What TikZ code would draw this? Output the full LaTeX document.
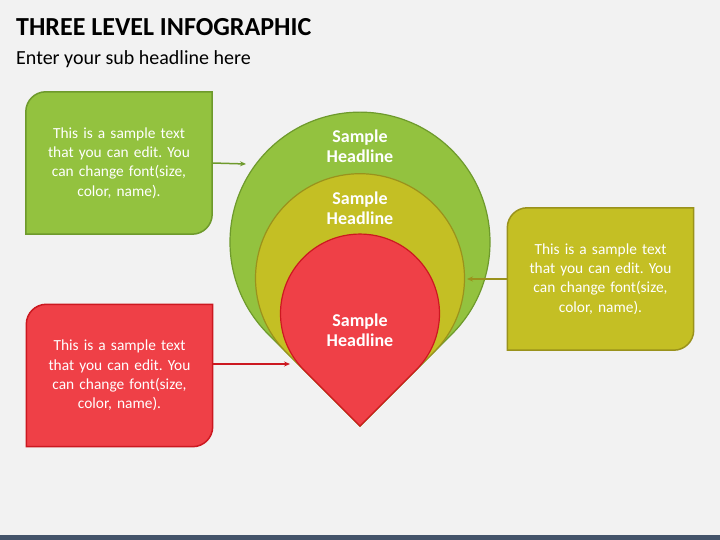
\documentclass[tikz,border=0pt]{standalone}
\usepackage{fontspec}
\setmainfont{Carlito}
\usetikzlibrary{calc,backgrounds,arrows.meta}
\frenchspacing
\definecolor{bgc}{HTML}{F2F2F2}
\definecolor{barc}{HTML}{44546A}
\definecolor{gfill}{HTML}{93C23F}
\definecolor{gline}{HTML}{6E9A2C}
\definecolor{yfill}{HTML}{C4BF24}
\definecolor{yline}{HTML}{9A921C}
\definecolor{rfill}{HTML}{EF4047}
\definecolor{rline}{HTML}{CC1820}
\tikzset{
  boxtext/.style={inner sep=0pt, minimum width=186pt, minimum height=142pt,
    text width=180pt, align=center, text=white,
    font=\fontsize{15.4}{19.3}\selectfont},
  headtext/.style={inner sep=0pt, align=center, text=white,
    font=\fontsize{18}{20}\selectfont\bfseries},
  dropline/.style={line width=1.2pt},
  boxline/.style={line width=1.5pt},
  conn/.style={line width=1.5pt, -{Stealth[length=6pt,width=5pt]}},
}
\begin{document}
\begin{tikzpicture}[x=1pt,y=1pt]
\useasboundingbox (0,0) rectangle (720,540);
% title texts
\node[anchor=base west, inner sep=0pt, font=\fontsize{26}{28}\selectfont\bfseries] (title) at (16,504) {THREE LEVEL INFOGRAPHIC};
\node[anchor=base west, inner sep=0pt, font=\fontsize{20}{22}\selectfont] (sub) at (16,475) {Enter your sub headline here};
% teardrops
\coordinate (tip) at (360,114);
\draw[dropline, draw=gline, fill=gfill] (tip) -- ++(45:130pt) arc[start angle=-45,end angle=225,radius=130pt] -- cycle;
\draw[dropline, draw=yline, fill=yfill] (tip) -- ++(45:104.5pt) arc[start angle=-45,end angle=225,radius=104.5pt] -- cycle;
\draw[dropline, draw=rline, fill=rfill] (tip) -- ++(45:79.5pt) arc[start angle=-45,end angle=225,radius=79.5pt] -- cycle;
\node[headtext] (ghead) at (360,394) {Sample\\Headline};
\node[headtext] (yhead) at (360,332) {Sample\\Headline};
\node[headtext] (rhead) at (360,210) {Sample\\Headline};
% arrow targets
\coordinate (gtip) at (246,376);
\coordinate (ytip) at (467,261);
\coordinate (rtip) at (290,176);
% boxes
\node[boxtext] (gbox) at (119,377) {This is a sample text\\that you can edit. You\\can change font(size,\\color, name).};
\node[boxtext] (ybox) at (600.5,261) {This is a sample text\\that you can edit. You\\can change font(size,\\color, name).};
\node[boxtext] (rbox) at (119.5,164.5) {This is a sample text\\that you can edit. You\\can change font(size,\\color, name).};
\begin{scope}[on background layer]
\fill[bgc] (0,0) rectangle (720,540);
\fill[barc] (0,0) rectangle (720,5);
\foreach \b/\f/\l in {gbox/gfill/gline, ybox/yfill/yline, rbox/rfill/rline}{
  \draw[boxline, draw=\l, fill=\f] (\b.south west) -- ($(\b.north west)+(0,-20pt)$)
    arc[start angle=180,end angle=90,radius=20pt] -- (\b.north east)
    -- ($(\b.south east)+(0,20pt)$) arc[start angle=0,end angle=-90,radius=20pt] -- cycle;
}
\end{scope}
% connectors
\draw[conn, draw=gline] (gbox.east) -- (gtip);
\draw[conn, draw=yline] (ybox.west) -- (ytip);
\draw[conn, draw=rline] (rbox.east |- rtip) -- (rtip);
\end{tikzpicture}
\end{document}
